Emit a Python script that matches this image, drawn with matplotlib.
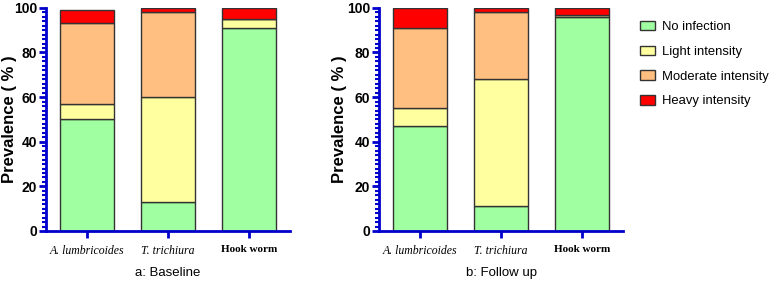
import numpy as np
import matplotlib.pyplot as plt
from matplotlib.patches import Patch
from matplotlib.ticker import MultipleLocator

parasites = ['A. lumbricoides', 'T. trichiura', 'Hook worm']
categories = ['No infection', 'Light intensity', 'Moderate intensity', 'Heavy intensity']
colors = ['#a0ffa0', '#ffffa0', '#ffbf80', '#ff0000']

# prevalence (%) per intensity class, one list per category
baseline = {
    'No infection': [50, 13, 91],
    'Light intensity': [7, 47, 4],
    'Moderate intensity': [36, 38, 0],
    'Heavy intensity': [6, 2, 5],
}
followup = {
    'No infection': [47, 11, 96],
    'Light intensity': [8, 57, 1],
    'Moderate intensity': [36, 30, 0],
    'Heavy intensity': [9, 2, 3],
}
titles = ['a: Baseline', 'b: Follow up']

sans = 'Liberation Sans'

fig = plt.figure(figsize=(7.75, 2.81), dpi=100)
ax1 = fig.add_axes([0.0594, 0.178, 0.315, 0.794])
ax2 = fig.add_axes([0.489, 0.178, 0.315, 0.794])

blue = '#0000cc'
for ax, data, title, lx in zip([ax1, ax2], [baseline, followup], titles, [-0.119, -0.131]):
    x = np.arange(len(parasites))
    bottom = np.zeros(len(parasites))
    for cat, col in zip(categories, colors):
        vals = np.array(data[cat], dtype=float)
        ax.bar(x, vals, 0.667, bottom=bottom, color=col,
               edgecolor='#333333', linewidth=1.0, zorder=2)
        bottom += vals
    ax.set_xlim(-0.506, 2.506)
    ax.set_ylim(0, 100)
    ax.yaxis.set_minor_locator(MultipleLocator(2))
    for s in ['top', 'right']:
        ax.spines[s].set_visible(False)
    for s in ['left', 'bottom']:
        ax.spines[s].set_color(blue)
        ax.spines[s].set_linewidth(2)
    ax.tick_params(axis='both', which='major', color=blue, width=2, length=5, pad=1.5)
    ax.tick_params(axis='y', which='minor', color=blue, width=1.5, length=3)
    ax.set_yticks([0, 20, 40, 60, 80, 100])
    ax.set_yticklabels(['0', '20', '40', '60', '80', '100'],
                       fontfamily=sans, fontweight='bold', fontsize=10)
    ax.set_xticks(x)
    ax.set_xticklabels(parasites, fontfamily='Liberation Serif', fontsize=8.5)
    labs = ax.get_xticklabels()
    labs[0].set_fontstyle('italic')
    labs[1].set_fontstyle('italic')
    labs[2].set_fontweight('bold')
    labs[2].set_fontsize(8)
    ax.tick_params(axis='x', pad=5)
    ax.set_ylabel('Prevalence ( % )', fontfamily=sans,
                  fontweight='bold', fontsize=12)
    ax.yaxis.set_label_coords(lx, 0.5)
    ax.set_xlabel(title, fontfamily=sans, fontsize=9.5, labelpad=7)

handles = [Patch(facecolor=c, edgecolor='#333333', label=l)
           for c, l in zip(colors, categories)]
fig.legend(handles=handles, loc='upper left', bbox_to_anchor=(0.826, 0.926),
           frameon=False, prop={'family': sans, 'size': 9.4},
           borderpad=0, borderaxespad=0,
           handlelength=1.1, handleheight=0.75, handletextpad=0.6,
           labelspacing=0.95)

fig.savefig('out.png', dpi=100)
